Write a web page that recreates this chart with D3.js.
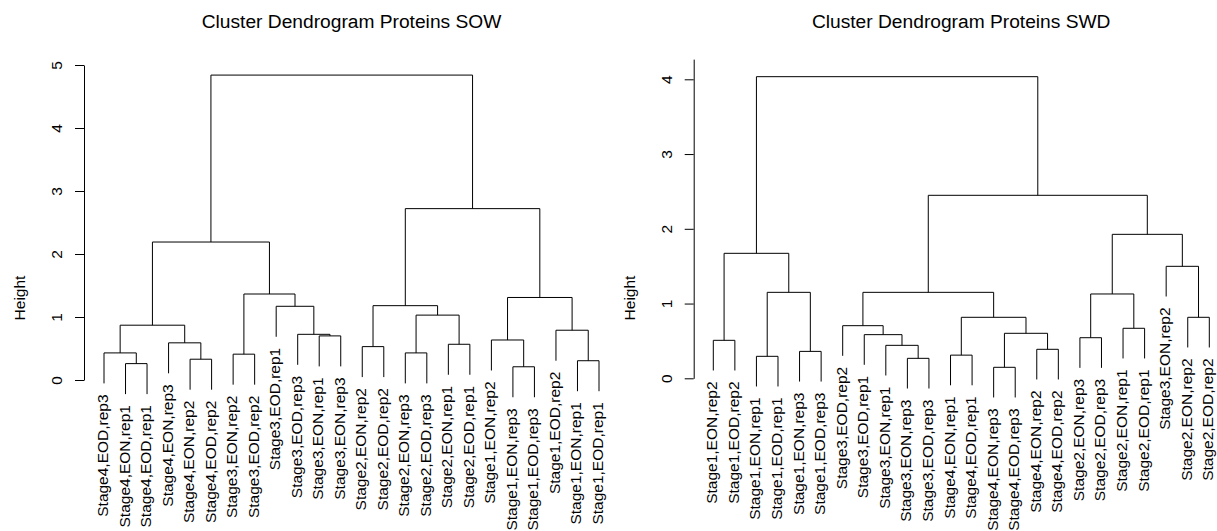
<!DOCTYPE html>
<html lang="en">
<head>
  <meta charset="UTF-8">
  <title>Cluster Dendrograms Proteins</title>
  <script src="https://d3js.org/d3.v7.min.js"></script>
  <style>
    body { margin: 0; background: #fff; }
    svg text { font-family: "Liberation Sans", Arial, sans-serif; fill: #000; }
    .link { fill: none; stroke: #000; stroke-width: 1; }
  </style>
</head>
<body>
<script>
  // leaf order as drawn, left to right
  const sowLabels = [
    'Stage4,EOD,rep3', 'Stage4,EON,rep1', 'Stage4,EOD,rep1', 'Stage4,EON,rep3',
    'Stage4,EON,rep2', 'Stage4,EOD,rep2', 'Stage3,EON,rep2', 'Stage3,EOD,rep2',
    'Stage3,EOD,rep1', 'Stage3,EOD,rep3', 'Stage3,EON,rep1', 'Stage3,EON,rep3',
    'Stage2,EON,rep2', 'Stage2,EOD,rep2', 'Stage2,EON,rep3', 'Stage2,EOD,rep3',
    'Stage2,EON,rep1', 'Stage2,EOD,rep1', 'Stage1,EON,rep2', 'Stage1,EON,rep3',
    'Stage1,EOD,rep3', 'Stage1,EOD,rep2', 'Stage1,EON,rep1', 'Stage1,EOD,rep1'
  ];
  // merges like R hclust: negative = leaf position, positive = earlier merge; [a, b, height]
  const sowMerges = [
    [-2, -3, 0.26], [-1, 1, 0.43], [-5, -6, 0.33], [-4, 3, 0.59], [2, 4, 0.87],
    [-7, -8, 0.41], [-11, -12, 0.70], [-10, 7, 0.725], [-9, 8, 1.17], [6, 9, 1.365],
    [5, 10, 2.19], [-13, -14, 0.53], [-15, -16, 0.43], [-17, -18, 0.567], [13, 14, 1.03],
    [12, 15, 1.18], [-20, -21, 0.21], [-19, 17, 0.635], [-23, -24, 0.306], [-22, 19, 0.79],
    [18, 20, 1.31], [16, 21, 2.72], [11, 22, 4.84]
  ];
  const sowTicks = [0, 1, 2, 3, 4, 5];

  const swdLabels = [
    'Stage1,EON,rep2', 'Stage1,EOD,rep2', 'Stage1,EON,rep1', 'Stage1,EOD,rep1',
    'Stage1,EON,rep3', 'Stage1,EOD,rep3', 'Stage3,EOD,rep2', 'Stage3,EOD,rep1',
    'Stage3,EON,rep1', 'Stage3,EON,rep3', 'Stage3,EOD,rep3', 'Stage4,EON,rep1',
    'Stage4,EOD,rep1', 'Stage4,EON,rep3', 'Stage4,EOD,rep3', 'Stage4,EON,rep2',
    'Stage4,EOD,rep2', 'Stage2,EON,rep3', 'Stage2,EOD,rep3', 'Stage2,EON,rep1',
    'Stage2,EOD,rep1', 'Stage3,EON,rep2', 'Stage2,EON,rep2', 'Stage2,EOD,rep2'
  ];
  const swdMerges = [
    [-1, -2, 0.508], [-3, -4, 0.294], [-5, -6, 0.36], [2, 3, 1.15], [1, 4, 1.672],
    [-10, -11, 0.267], [-9, 6, 0.441], [-8, 7, 0.584], [-7, 8, 0.704], [-12, -13, 0.31],
    [-14, -15, 0.147], [-16, -17, 0.388], [11, 12, 0.602], [10, 13, 0.816], [9, 14, 1.15],
    [-18, -19, 0.543], [-20, -21, 0.669], [16, 17, 1.128], [-23, -24, 0.816], [-22, 19, 1.498],
    [18, 20, 1.926], [15, 21, 2.448], [5, 22, 4.035]
  ];
  const swdTicks = [0, 1, 2, 3, 4];

  const svg = d3.select('body').append('svg')
    .attr('width', 1217)
    .attr('height', 531);

  const panels = [
    {
      title: 'Cluster Dendrogram Proteins SOW',
      labels: sowLabels, merges: sowMerges, ticks: sowTicks,
      left: 84, center: 351.5,
      x: d3.scaleLinear().domain([1, 24]).range([104, 599]),
      y: d3.scaleLinear().domain([0, 5]).range([380, 65]),
      axisTop: 5
    },
    {
      title: 'Cluster Dendrogram Proteins SWD',
      labels: swdLabels, merges: swdMerges, ticks: swdTicks,
      left: 693.7, center: 961.2,
      x: d3.scaleLinear().domain([1, 24]).range([713.3, 1209.3]),
      y: d3.scaleLinear().domain([0, 4]).range([378.3, 79.3]),
      axisTop: 4.27
    }
  ];

  panels.forEach(drawPanel);

  function drawPanel(p) {
    const g = svg.append('g');
    const hang = 0.1 * d3.max(p.merges, m => m[2]);

    // x of every merge = middle of its two children
    const mx = [];
    const nodeX = id => id < 0 ? p.x(-id) : mx[id - 1];
    p.merges.forEach((m, i) => { mx[i] = (nodeX(m[0]) + nodeX(m[1])) / 2; });

    const leafEnd = [];
    const nodeTop = (id, h) => {
      if (id < 0) { leafEnd[-id] = h - hang; return h - hang; }
      return p.merges[id - 1][2];
    };

    // the branches
    g.selectAll('.link')
      .data(p.merges)
      .enter().append('path')
      .attr('class', 'link')
      .attr('d', m => {
        const x1 = nodeX(m[0]), x2 = nodeX(m[1]);
        const t1 = nodeTop(m[0], m[2]), t2 = nodeTop(m[1], m[2]);
        return 'M' + x1 + ',' + p.y(t1) + 'V' + p.y(m[2]) + 'H' + x2 + 'V' + p.y(t2);
      });

    // leaf labels, rotated, hanging under each leaf
    g.selectAll('.leaf')
      .data(p.labels)
      .enter().append('text')
      .attr('class', 'leaf')
      .attr('text-anchor', 'end')
      .style('font-size', '15.5px')
      .attr('transform', (d, i) => `translate(${p.x(i + 1) + 4},${p.y(leafEnd[i + 1]) + 11}) rotate(-90)`)
      .text(d => d);

    // y axis
    const yAxisScale = p.y.copy().domain([0, p.axisTop]).range([p.y(0), p.y(p.axisTop)]);
    const axis = g.append('g')
      .attr('transform', 'translate(' + p.left + ',0)')
      .call(d3.axisLeft(yAxisScale).tickValues(p.ticks).tickSize(9).tickSizeOuter(0).tickFormat(d3.format('d')));
    axis.select('.domain').attr('stroke', '#000');
    axis.selectAll('.tick line').attr('stroke', '#000');
    axis.selectAll('.tick text')
      .attr('x', null)
      .attr('dy', null)
      .attr('text-anchor', 'middle')
      .attr('transform', 'translate(-22,0) rotate(-90)')
      .style('font-size', '15.5px')
      .style('font-family', '"Liberation Sans", Arial, sans-serif');

    // y label
    g.append('text')
      .attr('text-anchor', 'middle')
      .attr('transform', `translate(${p.left - 59},298) rotate(-90)`)
      .style('font-size', '15.5px')
      .text('Height');

    // title
    g.append('text')
      .attr('x', p.center)
      .attr('y', 27.5)
      .attr('text-anchor', 'middle')
      .style('font-size', '19.2px')
      .text(p.title);
  }
</script>
</body>
</html>
